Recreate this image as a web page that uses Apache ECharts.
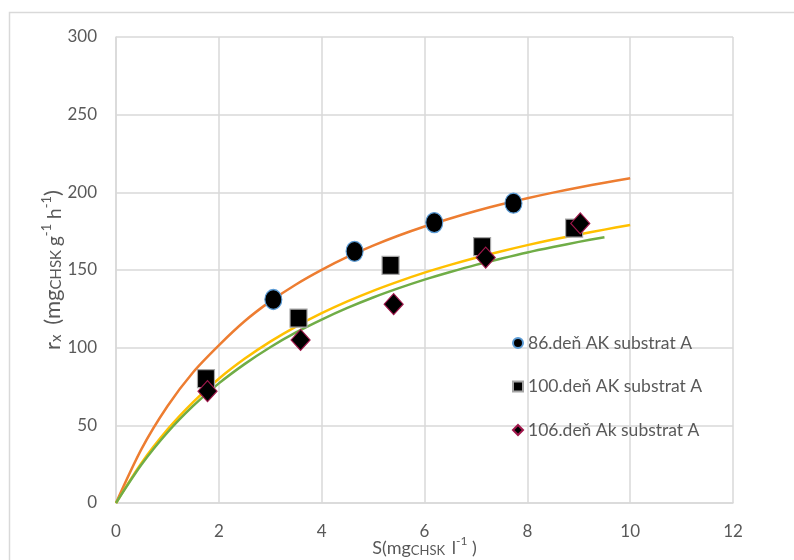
<!DOCTYPE html>
<html>
<head>
<meta charset="utf-8">
<script src="https://cdn.jsdelivr.net/npm/echarts@6/dist/echarts.min.js"></script>
<style>
  html, body { margin: 0; padding: 0; background: #fff; }
  #chart { width: 794px; height: 560px; }
</style>
</head>
<body>
<div id="chart"></div>
<script>
// Substrate concentration S (mg CHSK / l) and rate r_x for three sampling days
const seriesNames = ['86.deň AK substrat A', '100.deň AK substrat A', '106.deň Ak substrat A'];

// Measured points
const s86 = [3.06, 4.64, 6.19, 7.73];
const r86 = [131, 162, 180.5, 193];
const s100 = [1.75, 3.55, 5.34, 7.12, 8.91];
const r100 = [80, 119, 153, 165, 177];
const s106 = [1.78, 3.59, 5.40, 7.19, 9.03];
const r106 = [72, 105, 128, 158, 180];

// Fitted kinetic curves, sampled every 0.5 mg/l
const curveS = [0, 0.5, 1, 1.5, 2, 2.5, 3, 3.5, 4, 4.5, 5, 5.5, 6, 6.5, 7, 7.5, 8, 8.5, 9, 9.5, 10];
const curve86 = [0, 35, 62.3, 84.2, 101.5, 117, 129.8, 140.7, 150.1, 158.4, 165.7, 172.2, 178, 183.2, 188, 192.3, 196.2, 199.8, 203.1, 206.2, 209];
const curve100 = [0, 26, 47.3, 65, 80, 92.8, 103.9, 113.6, 122.2, 129.8, 136.6, 142.7, 148.3, 153.3, 157.9, 162.1, 166, 169.6, 172.9, 176, 179];
const curveS106 = [0, 0.5, 1, 1.5, 2, 2.5, 3, 3.5, 4, 4.5, 5, 5.5, 6, 6.5, 7, 7.5, 8, 8.5, 9, 9.5];
const curve106 = [0, 24.9, 45.4, 62.5, 77, 89.4, 100.3, 109.8, 118.1, 125.6, 132.3, 138.3, 143.8, 148.7, 153.3, 157.4, 161.3, 164.8, 168.1, 171.1];

// Axis ticks
const xTicks = [0, 2, 4, 6, 8, 10, 12];
const yTicks = [0, 50, 100, 150, 200, 250, 300];

const zip = (xs, ys) => xs.map((x, i) => [x, ys[i]]);

const FONT = 'Lato, "Open Sans", sans-serif';
const TXT = '#595959';
const GRID = '#d9d9d9';

const chart = echarts.init(document.getElementById('chart'), null, { renderer: 'canvas' });

const lineSeries = (name, xs, ys, color) => ({
  name: name,
  type: 'line',
  data: zip(xs, ys),
  smooth: 0.3,
  showSymbol: false,
  silent: true,
  z: 2,
  lineStyle: { color: color, width: 2.5 },
  itemStyle: { color: color }
});

chart.setOption({
  animation: false,
  backgroundColor: '#fff',
  graphic: [{
    type: 'rect',
    left: 7, top: 10,
    shape: { width: 820, height: 600 },
    style: { fill: 'none', stroke: GRID, lineWidth: 1.5 },
    z: -10, silent: true
  }],
  grid: { left: 116, right: 61, top: 37, bottom: 57, containLabel: false, outerBoundsMode: 'none' },
  legend: {
    orient: 'vertical',
    left: 507, top: 329,
    itemWidth: 10, itemHeight: 10,
    itemGap: 25.5,
    data: seriesNames,
    textStyle: { fontFamily: FONT, fontSize: 17.5, color: TXT }
  },
  xAxis: {
    type: 'value',
    min: xTicks[0], max: xTicks[xTicks.length - 1], interval: 2,
    axisLine: { show: true, lineStyle: { color: GRID, width: 1.5 } },
    axisTick: { show: false },
    splitLine: { show: true, lineStyle: { color: GRID, width: 1.5 } },
    axisLabel: { color: TXT, fontFamily: FONT, fontSize: 17, margin: 20 },
    name: '{n|S(mg}{sub|CHSK}{n| l}{sup|-1}{n| )}',
    nameLocation: 'middle',
    nameGap: 32,
    nameMoveOverlap: false,
    nameTextStyle: {
      color: TXT, fontFamily: FONT,
      rich: {
        n: { fontFamily: FONT, fontSize: 18, color: TXT, lineHeight: 22, verticalAlign: 'bottom' },
        sub: { fontFamily: FONT, fontSize: 13, color: TXT, lineHeight: 22, verticalAlign: 'bottom', padding: [0, 2, 0, 0] },
        sup: { fontFamily: FONT, fontSize: 12, color: TXT, lineHeight: 22, verticalAlign: 'top' }
      }
    }
  },
  yAxis: {
    type: 'value',
    min: yTicks[0], max: yTicks[yTicks.length - 1], interval: 50,
    axisLine: { show: true, lineStyle: { color: GRID, width: 1.5 } },
    axisTick: { show: false },
    splitLine: { show: true, lineStyle: { color: GRID, width: 1.5 } },
    axisLabel: { color: TXT, fontFamily: FONT, fontSize: 17, margin: 19 },
    name: '{n|r}{sub|x}{n| (mg}{sub|CHSK}{s|g}{sup|-1}{s| h}{sup|-1}{n|)}',
    nameLocation: 'middle',
    nameGap: 52,
    nameMoveOverlap: false,
    nameTextStyle: {
      color: TXT, fontFamily: FONT,
      rich: {
        n: { fontFamily: FONT, fontSize: 22, color: TXT, lineHeight: 24, verticalAlign: 'bottom' },
        s: { fontFamily: FONT, fontSize: 19, color: TXT, lineHeight: 24, verticalAlign: 'bottom' },
        sub: { fontFamily: FONT, fontSize: 15, color: TXT, lineHeight: 24, verticalAlign: 'bottom', padding: [0, 4, 0, 0] },
        sup: { fontFamily: FONT, fontSize: 13, color: TXT, lineHeight: 24, verticalAlign: 'top' }
      }
    }
  },
  series: [
    lineSeries('fit86', curveS, curve86, '#ed7d31'),
    lineSeries('fit100', curveS, curve100, '#ffc000'),
    lineSeries('fit106', curveS106, curve106, '#70ad47'),
    {
      name: seriesNames[0], type: 'scatter', z: 5,
      data: zip(s86, r86),
      symbol: 'circle', symbolSize: [17, 20],
      itemStyle: { color: '#000000', opacity: 1, borderColor: '#5b9bd5', borderWidth: 1.2 }
    },
    {
      name: seriesNames[1], type: 'scatter', z: 5,
      data: zip(s100, r100),
      symbol: 'rect', symbolSize: [17, 18],
      itemStyle: { color: '#000000', opacity: 1, borderColor: '#a5a5a5', borderWidth: 1.2 }
    },
    {
      name: seriesNames[2], type: 'scatter', z: 6,
      data: zip(s106, r106),
      symbol: 'diamond', symbolSize: [19, 21],
      itemStyle: { color: '#000000', opacity: 1, borderColor: '#a0174b', borderWidth: 1.2 }
    }
  ]
});
</script>
</body>
</html>
